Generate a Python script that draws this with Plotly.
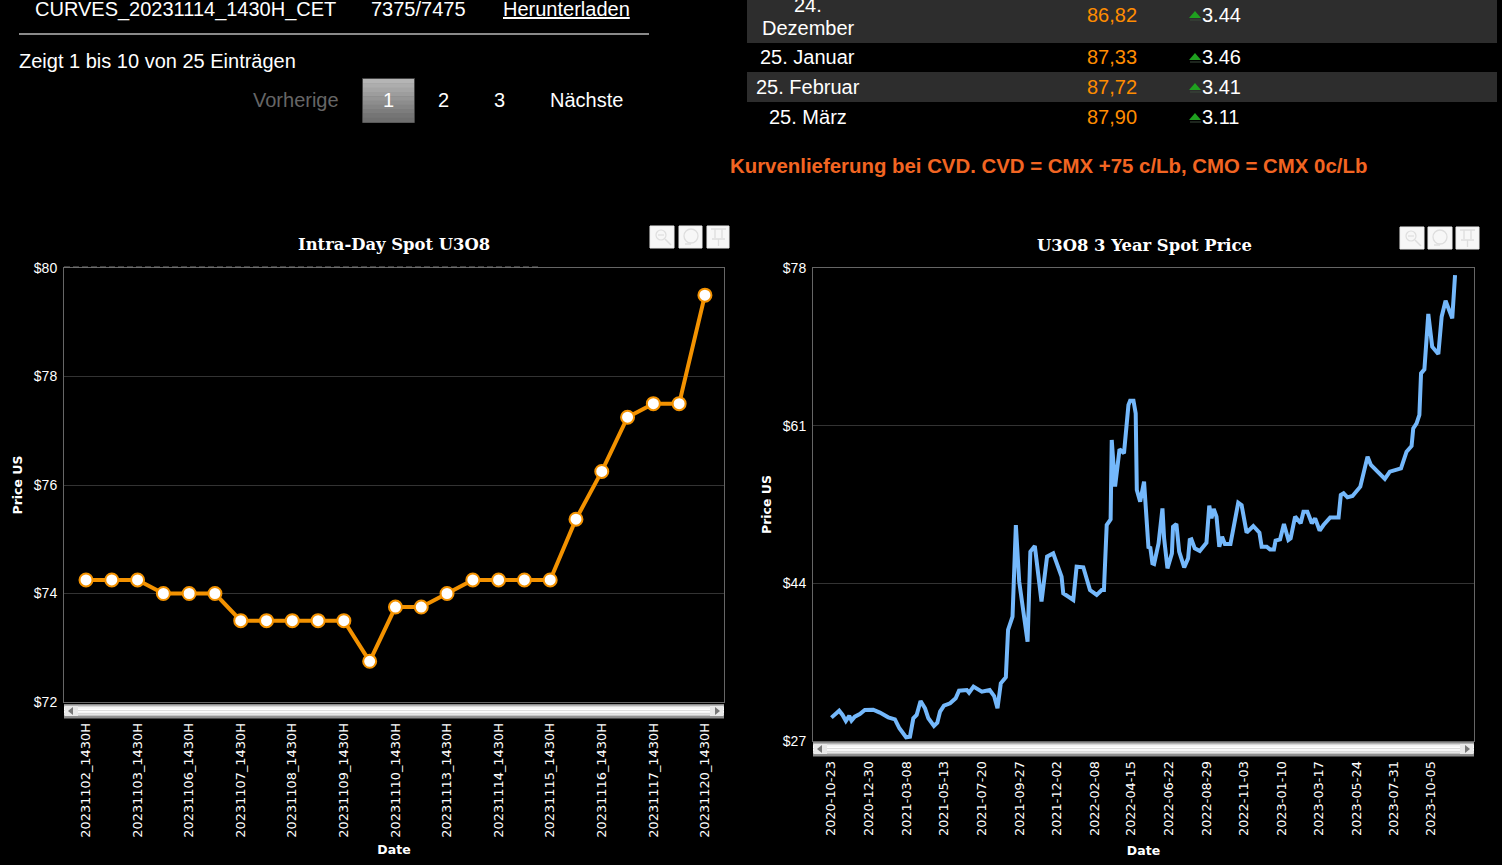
import pandas as pd
import plotly.graph_objects as go

W, H = 1502, 865

# ---------- data ----------
intraday_tick_labels = ["20231102_1430H", "20231103_1430H", "20231106_1430H", "20231107_1430H",
                        "20231108_1430H", "20231109_1430H", "20231110_1430H", "20231113_1430H",
                        "20231114_1430H", "20231115_1430H", "20231116_1430H", "20231117_1430H",
                        "20231120_1430H"]
intraday_values = [74.25, 74.25, 74.25, 74.0, 74.0, 74.0, 73.5, 73.5, 73.5, 73.5, 73.5, 72.75,
                   73.75, 73.75, 74.0, 74.25, 74.25, 74.25, 74.25, 75.37, 76.25, 77.25, 77.5, 77.5, 79.5]
intraday_yticks = [72, 74, 76, 78, 80]

spot_start = "2020-10-23"
spot_days = [1, 7, 15, 21, 27, 33, 37, 43, 52, 61, 76, 88, 103, 115, 123, 135, 142, 148, 154, 161,
             169, 175, 185, 191, 196, 203, 214, 224, 230, 244, 248, 256, 271, 285, 293, 299, 305,
             314, 318, 326, 332, 338, 353, 358, 366, 378, 388, 399, 414, 417, 435, 441, 453, 465,
             477, 486, 490, 495, 502, 504, 510, 518, 526, 534, 537, 543, 547, 549, 555, 562, 570,
             573, 577, 580, 588, 595, 598, 604, 612, 614, 620, 625, 634, 641, 644, 647, 653, 662,
             674, 679, 683, 687, 692, 697, 702, 707, 717, 731, 737, 746, 758, 769, 773, 782, 788,
             795, 798, 806, 811, 813, 821, 825, 833, 843, 848, 855, 863, 869, 877, 884, 896, 911,
             915, 920, 927, 936, 950, 963, 969, 994, 1003, 1023, 1033, 1042, 1045, 1051, 1056,
             1059, 1065, 1072, 1079, 1090, 1096, 1103, 1115, 1120]
spot_values = [29.52, 29.81, 30.27, 29.81, 29.16, 29.70, 29.20, 29.63, 29.91, 30.35, 30.38, 30.06,
               29.55, 29.34, 28.37, 27.40, 27.47, 29.45, 29.81, 31.32, 30.53, 29.45, 28.62, 28.98,
               30.17, 30.81, 31.06, 31.60, 32.43, 32.50, 32.21, 32.86, 32.32, 32.50, 31.85, 30.53,
               33.22, 33.87, 38.97, 40.41, 50.29, 44.18, 37.71, 47.42, 48.03, 42.03, 46.88, 47.24,
               44.72, 42.93, 42.21, 45.80, 45.73, 43.28, 42.75, 43.28, 43.28, 50.29, 50.90, 59.46,
               54.43, 58.45, 58.02, 63.23, 63.69, 63.69, 62.33, 54.07, 52.80, 54.96, 47.77, 47.95,
               46.15, 46.08, 48.31, 52.08, 48.85, 45.62, 47.23, 50.11, 50.40, 47.41, 45.72, 46.69,
               48.67, 48.74, 47.77, 47.48, 48.38, 52.37, 51.01, 52.01, 51.19, 47.95, 49.03, 48.24,
               48.24, 52.70, 52.44, 49.46, 50.18, 49.46, 47.95, 47.95, 47.66, 47.66, 48.60, 48.74,
               50.29, 50.40, 48.67, 48.85, 51.19, 50.47, 51.72, 51.72, 50.47, 51.01, 49.68, 50.29,
               51.11, 51.11, 53.52, 53.70, 53.27, 53.42, 54.42, 57.66, 56.76, 55.25, 56.04, 56.40,
               58.19, 58.81, 60.71, 61.25, 62.15, 66.64, 67.07, 73.04, 69.52, 68.72, 72.75, 74.47,
               72.57, 77.24]
spot_tick_dates = ["2020-10-23", "2020-12-30", "2021-03-08", "2021-05-13", "2021-07-20", "2021-09-27",
                   "2021-12-02", "2022-02-08", "2022-04-15", "2022-06-22", "2022-08-29", "2022-11-03",
                   "2023-01-10", "2023-03-17", "2023-05-24", "2023-07-31", "2023-10-05"]
spot_yticks = [27, 44, 61, 78]

table_months = ["25. Januar", "25. Februar", "25. März"]
table_prices = ["86,82", "87,33", "87,72", "87,90"]
table_changes = ["3.44", "3.46", "3.41", "3.11"]

# ---------- helpers ----------
def px(x):
    return x / W

def py(y):
    return 1 - y / H

shapes, annotations = [], []

def rect(x0, y0, x1, y1, fill, line=None, lw=0, layer="above"):
    shapes.append(dict(type="rect", xref="paper", yref="paper", x0=px(x0), x1=px(x1), y0=py(y0), y1=py(y1),
                       fillcolor=fill, line=dict(color=line or fill, width=lw), layer=layer))

def seg(x0, y0, x1, y1, color, lw=1, dash="solid", layer="above"):
    shapes.append(dict(type="line", xref="paper", yref="paper", x0=px(x0), x1=px(x1), y0=py(y0), y1=py(y1),
                       line=dict(color=color, width=lw, dash=dash), layer=layer))

def circ(x0, y0, x1, y1, color, lw=1):
    shapes.append(dict(type="circle", xref="paper", yref="paper", x0=px(x0), x1=px(x1), y0=py(y0), y1=py(y1),
                       line=dict(color=color, width=lw), layer="above"))

def gradient(x0, y0, x1, y1, stops):
    n = len(stops)
    h = (y1 - y0) / n
    for i, c in enumerate(stops):
        rect(x0, y0 + i * h, x1, y0 + (i + 1) * h + 0.4, c)

def text(x, y, s, size=20, color="#ffffff", anchor="left", family="Liberation Sans", bold=False):
    annotations.append(dict(xref="paper", yref="paper", x=px(x), y=py(y), text=f"<b>{s}</b>" if bold else s,
                            showarrow=False, xanchor=anchor, yanchor="middle",
                            font=dict(family=family, size=size, color=color), borderpad=0, borderwidth=0))

def scrollbar(x0, y0, x1, y1):
    stops = ["#8c8c8c", "#d8d8d8", "#f4f4f4", "#ffffff", "#fdfdfd", "#f4f4f4", "#e4e4e4", "#c4c4c4", "#8c8c8c"]
    gradient(x0, y0, x1, y1, stops)
    rect(x0 + 1, y0 + 2, x0 + 14, y1 - 2, "#e8e8e8")
    rect(x1 - 14, y0 + 2, x1 - 1, y1 - 2, "#e8e8e8")
    for sign, cx in ((-1, x0 + 7), (1, x1 - 7)):
        shapes.append(dict(type="path", xref="paper", yref="paper", layer="above", fillcolor="#777777",
                           line=dict(width=0),
                           path=f"M {px(cx + sign * 3)} {py((y0 + y1) / 2)} "
                                f"L {px(cx - sign * 2)} {py((y0 + y1) / 2 - 4)} "
                                f"L {px(cx - sign * 2)} {py((y0 + y1) / 2 + 4)} Z"))

def icons(xs, y0, y1):
    glyph = "#dedede"
    for x0, x1 in xs:
        rect(x0, y0, x1, y1, "#f7f7f7", "#ececec", 1)
    (a, _), (b, _), (c, c1) = xs
    my = (y0 + y1) / 2
    circ(a + 6, my - 7, a + 16, my + 3, glyph, 1.2)
    seg(a + 15, my + 2, a + 21, my + 8, glyph, 1.5)
    seg(a + 8, my - 2, a + 14, my - 2, glyph, 1.2)
    circ(b + 5, my - 8, b + 19, my + 6, glyph, 1.3)
    seg(b + 6, my + 7, b + 12, my + 7, glyph, 1.3)
    seg(c + 4, my - 8, c + 19, my - 8, glyph, 1.5)
    seg(c + 8, my - 8, c + 8, my + 1, glyph, 1.3)
    seg(c + 15, my - 8, c + 15, my + 1, glyph, 1.3)
    seg(c + 5, my + 2, c + 18, my + 2, glyph, 1.5)
    seg(c + 11.5, my + 2, c + 11.5, my + 9, glyph, 1.3)

# ---------- page furniture ----------
text(35, 9, "CURVES_20231114_1430H_CET")
text(371, 9, "7375/7475")
text(503, 9, "<u>Herunterladen</u>")
seg(19, 34, 649, 34, "#8a8a8a", 2)
text(19, 61, "Zeigt 1 bis 10 von 25 Einträgen")
text(253, 100, "Vorherige", color="#666666")
rect(362.5, 78.5, 414.5, 122.5, "#6a6a6a", "#444444", 1)
gradient(363, 79, 414, 122, ["#b5b5b5", "#adadad", "#a5a5a5", "#9d9d9d", "#959595", "#8d8d8d", "#858585", "#7d7d7d", "#757575", "#6f6f6f"])
text(388.5, 100, "1", anchor="center")
text(443.5, 100, "2", anchor="center")
text(499.5, 100, "3", anchor="center")
text(550, 100, "Nächste")

rect(747, 0, 1497, 43, "#2d2d2d", layer="below")
rect(747, 72, 1497, 102, "#2d2d2d", layer="below")
text(808, 5, "24.", anchor="center")
text(808, 28, "Dezember", anchor="center")
row_y = [15, 57, 87, 117]
for y, m in zip(row_y[1:], table_months):
    text(807.5, y, m, anchor="center")
for y, p, c in zip(row_y, table_prices, table_changes):
    text(1112, y, p, color="#ff8c00", anchor="center")
    text(1202, y, c)
    shapes.append(dict(type="path", xref="paper", yref="paper", layer="above", fillcolor="#1fa01f",
                       line=dict(width=0),
                       path=f"M {px(1195)} {py(y - 4)} L {px(1201)} {py(y + 3)} L {px(1189)} {py(y + 3)} Z"))
    seg(1190, y + 5, 1201, y + 5, "#3a4a3a", 1)
text(1048.5, 166, "Kurvenlieferung bei CVD. CVD = CMX +75 c/Lb, CMO = CMX 0c/Lb",
     size=20.4, color="#f26522", anchor="center", bold=True)

# ---------- chart furniture ----------
title_font = "DejaVu Serif"
text(394, 244, "Intra-Day Spot U3O8", size=16.4, anchor="center", family=title_font, bold=True)
text(1144, 245, "U3O8 3 Year Spot Price", size=16.4, anchor="center", family=title_font, bold=True)
icons([(650, 674), (679, 702), (707, 729)], 226, 248)
icons([(1400, 1424), (1428, 1452), (1456, 1479)], 227, 249)
seg(64, 267, 540, 267, "#777777", 1, dash="6px,3px")
scrollbar(64, 704, 724, 718)
scrollbar(813, 742, 1474, 756)

# ---------- traces ----------
fig = go.Figure()
fig.add_trace(go.Scatter(x=list(range(len(intraday_values))), y=intraday_values, mode="lines+markers",
                         line=dict(color="#f39200", width=4),
                         marker=dict(size=13, color="#ffffff", line=dict(color="#f39200", width=2)),
                         xaxis="x", yaxis="y", showlegend=False, cliponaxis=False))
spot_dates = pd.Timestamp(spot_start) + pd.to_timedelta(spot_days, unit="D")
fig.add_trace(go.Scatter(x=spot_dates, y=spot_values, mode="lines",
                         line=dict(color="#74b8fb", width=4),
                         xaxis="x2", yaxis="y2", showlegend=False))

ytick_font = dict(family="Liberation Sans", size=14, color="#ffffff")
title_f = dict(family="DejaVu Sans", size=12.5, color="#ffffff", weight="bold")
common_x = dict(showgrid=False, zeroline=False, showline=True, linecolor="#666666", mirror=True,
                tickangle=-90, ticks="outside", tickcolor="rgba(0,0,0,0)")
common_y = dict(showgrid=True, gridcolor="#333333", gridwidth=1, zeroline=False, showline=True,
                linecolor="#666666", mirror=True, ticks="outside", ticklen=3, tickcolor="rgba(0,0,0,0)",
                tickfont=ytick_font)

t0 = pd.Timestamp(spot_start)
fig.update_layout(
    width=W, height=H, autosize=False, margin=dict(l=0, r=0, t=0, b=0, autoexpand=False),
    paper_bgcolor="#000000", plot_bgcolor="#000000", showlegend=False,
    xaxis=dict(domain=[px(64), px(724)], range=[-0.853, 24.74], ticklen=15,
               tickmode="array", tickvals=list(range(0, 25, 2)), ticktext=intraday_tick_labels,
               tickfont=dict(family="DejaVu Sans", size=12.9, color="#ffffff"),
               title=dict(text="Date", font=title_f, standoff=8), anchor="y", **common_x),
    yaxis=dict(domain=[py(702), py(268)], range=[72, 80],
               tickmode="array", tickvals=intraday_yticks, ticktext=[f"${v}" for v in intraday_yticks],
               title=dict(text="Price US", font=title_f, standoff=8), anchor="x", **common_y),
    xaxis2=dict(domain=[px(813), px(1474)], type="date", ticklen=14,
                range=[t0 + pd.Timedelta(days=-32), t0 + pd.Timedelta(days=1154)],
                tickmode="array", tickvals=spot_tick_dates, ticktext=spot_tick_dates,
                tickfont=dict(family="DejaVu Sans", size=12.9, color="#ffffff"),
                title=dict(text="Date", font=title_f, standoff=11), anchor="y2", **common_x),
    yaxis2=dict(domain=[py(741), py(268)], range=[27, 78],
                tickmode="array", tickvals=spot_yticks, ticktext=[f"${v}" for v in spot_yticks],
                title=dict(text="Price US", font=title_f, standoff=8), anchor="x2", **common_y),
    shapes=shapes, annotations=annotations,
)

fig.write_html("out.html", config=dict(displayModeBar=False),
               post_script="document.body.style.margin='0';document.body.style.overflow='hidden';")
